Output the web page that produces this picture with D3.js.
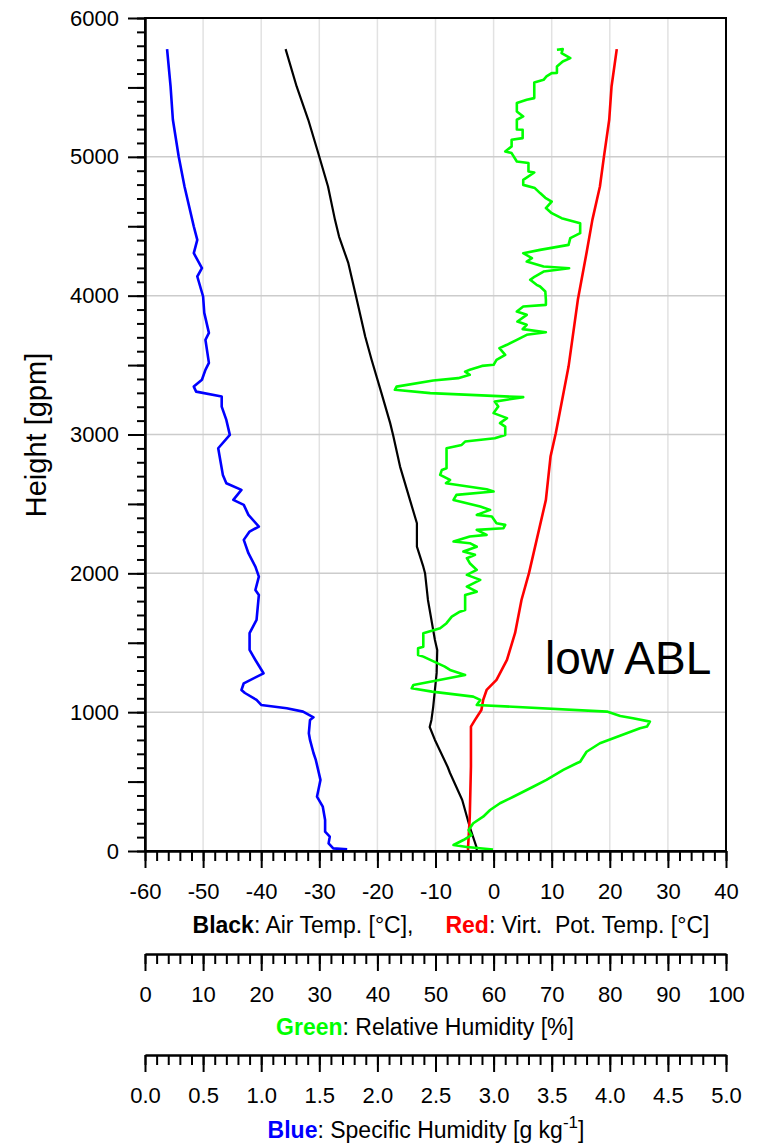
<!DOCTYPE html>
<html>
<head>
<meta charset="utf-8">
<script src="https://cdn.jsdelivr.net/npm/d3@7"></script>
<style>
  body { margin: 0; background: #fff; }
  svg text { font-family: "Liberation Sans", Arial, sans-serif; }
</style>
</head>
<body>
<div id="chart"></div>
<script>
// air temperature (black), deg C
const blackH = [0, 22, 173, 367, 562, 605, 800, 893, 944, 1037, 1160, 1283, 1448, 1520, 1808, 2001, 2048, 2192, 2361, 2529, 2769, 2997, 3082, 3298, 3538, 3706, 3999, 4234, 4426, 4546, 4786, 5029, 5267, 5507, 5776];
const blackT = [-2.9, -2.9, -4.1, -5.4, -7.5, -7.9, -10.1, -11.0, -10.7, -10.4, -10.1, -9.8, -9.7, -10.1, -11.3, -11.8, -12.1, -13.2, -13.2, -14.4, -16.1, -17.3, -17.8, -19.3, -21.0, -22.1, -23.7, -25.0, -26.6, -27.3, -28.5, -30.2, -31.9, -33.9, -35.8];

// virtual potential temperature (red), deg C
const redH = [0, 22, 248, 608, 896, 944, 1016, 1088, 1160, 1232, 1376, 1571, 1808, 2003, 2529, 2841, 3009, 3489, 3970, 4309, 4546, 4786, 5003, 5267, 5507, 5776];
const redT = [-4.4, -4.4, -4.1, -3.9, -3.9, -3.2, -2.1, -1.8, -1.2, 0.5, 2.3, 3.7, 4.8, 6.1, 9.0, 9.8, 10.7, 12.9, 14.5, 16.0, 17.0, 18.3, 19.0, 19.9, 20.3, 21.2];

// specific humidity (blue), g/kg
const blueH = [12, 19, 55, 103, 139, 223, 319, 391, 512, 656, 706, 800, 848, 944, 963, 1004, 1028, 1052, 1088, 1138, 1160, 1208, 1280, 1376, 1448, 1569, 1664, 1844, 1880, 1976, 2048, 2145, 2241, 2301, 2337, 2421, 2493, 2529, 2601, 2649, 2709, 2901, 2997, 3105, 3201, 3273, 3309, 3345, 3394, 3466, 3516, 3682, 3732, 3876, 3994, 4138, 4198, 4306, 4402, 4498, 4642, 4786, 5002, 5267, 5507, 5776];
const blueQ = [1.74, 1.62, 1.58, 1.59, 1.55, 1.55, 1.53, 1.48, 1.51, 1.47, 1.45, 1.42, 1.41, 1.42, 1.45, 1.36, 1.22, 1.00, 0.96, 0.86, 0.83, 0.85, 1.02, 0.95, 0.90, 0.90, 0.96, 0.98, 0.95, 0.98, 0.95, 0.89, 0.85, 0.90, 0.98, 0.89, 0.85, 0.76, 0.83, 0.70, 0.67, 0.63, 0.73, 0.70, 0.66, 0.66, 0.44, 0.42, 0.49, 0.52, 0.55, 0.52, 0.55, 0.51, 0.50, 0.45, 0.49, 0.42, 0.45, 0.42, 0.38, 0.34, 0.29, 0.24, 0.22, 0.19];

// relative humidity (green), %
const greenH = [11, 29, 43, 79, 115, 151, 200, 247, 295, 344, 391, 463, 512, 584, 632, 643, 715, 776, 812, 848, 884, 896, 932, 956, 973, 1004, 1052, 1088, 1112, 1148, 1172, 1196, 1268, 1304, 1328, 1400, 1412, 1460, 1472, 1569, 1605, 1641, 1688, 1724, 1736, 1808, 1844, 1868, 1904, 1953, 1989, 2025, 2073, 2109, 2133, 2157, 2192, 2217, 2229, 2265, 2277, 2313, 2325, 2349, 2361, 2409, 2421, 2457, 2481, 2529, 2565, 2589, 2606, 2649, 2673, 2709, 2745, 2757, 2901, 2925, 2949, 2973, 2997, 3057, 3082, 3118, 3154, 3201, 3237, 3269, 3298, 3322, 3345, 3389, 3406, 3430, 3453, 3466, 3494, 3502, 3538, 3574, 3622, 3646, 3682, 3718, 3737, 3759, 3790, 3814, 3862, 3886, 3922, 3934, 3970, 4030, 4066, 4078, 4114, 4138, 4174, 4198, 4210, 4246, 4270, 4306, 4330, 4366, 4414, 4450, 4522, 4558, 4594, 4631, 4678, 4705, 4739, 4775, 4798, 4834, 4887, 4894, 4955, 4966, 5027, 5039, 5075, 5123, 5135, 5195, 5197, 5267, 5291, 5327, 5387, 5411, 5423, 5536, 5555, 5579, 5603, 5605, 5651, 5687, 5711, 5747, 5776, 5771];
const greenRH = [59.9, 55.4, 53.1, 54.8, 56.2, 55.7, 56.5, 58.2, 59.4, 61.1, 63.4, 66.8, 69.1, 72.0, 74.3, 74.9, 76.0, 78.3, 80.6, 82.9, 85.2, 86.4, 86.9, 84.0, 81.8, 79.5, 57.1, 57.7, 56.5, 49.4, 45.9, 46.2, 55.1, 52.5, 51.6, 47.9, 47.0, 47.0, 47.9, 47.9, 50.8, 51.9, 52.8, 54.2, 55.1, 55.1, 55.1, 57.1, 55.4, 57.7, 55.4, 57.1, 55.9, 55.4, 56.8, 54.8, 57.1, 55.9, 53.1, 55.9, 58.8, 57.1, 61.7, 62.0, 60.5, 59.7, 57.1, 59.4, 57.7, 53.1, 53.6, 60.0, 58.8, 51.8, 52.5, 50.8, 51.1, 51.9, 51.9, 54.5, 55.1, 60.2, 62.0, 62.0, 61.1, 62.3, 60.0, 60.8, 60.2, 65.1, 49.1, 43.0, 43.3, 49.6, 53.9, 55.9, 55.1, 55.9, 58.0, 60.0, 60.5, 62.0, 61.0, 62.3, 64.0, 65.7, 69.0, 65.0, 65.7, 64.1, 65.7, 64.0, 65.1, 69.0, 69.0, 68.9, 68.0, 67.4, 66.3, 67.1, 68.6, 73.0, 68.6, 65.7, 66.6, 65.1, 68.0, 72.9, 73.2, 74.9, 74.9, 71.7, 70.0, 69.0, 70.0, 68.9, 68.0, 67.1, 65.1, 65.1, 67.0, 66.0, 66.0, 64.0, 63.1, 62.0, 63.1, 63.1, 65.0, 65.0, 64.0, 64.0, 65.1, 64.0, 64.0, 65.7, 67.0, 67.0, 68.6, 69.1, 70.0, 70.9, 70.9, 71.9, 73.2, 71.7, 71.9, 70.9];

const tempTicks = d3.range(-60, 41, 10);
const rhTicks = d3.range(0, 101, 10);
const qTicks = d3.range(0, 5.01, 0.5);
const heightTicks = d3.range(0, 6001, 1000);

const w = 764;
const h = 1144;
const padL = 145, padR = 726, padT = 18, padB = 851;
const font = "'Liberation Sans', Arial, sans-serif";

const svg = d3.select("#chart").append("svg").attr("width", w).attr("height", h);

const xT = d3.scaleLinear().domain([-60, 40]).range([padL, padR]);
const xRH = d3.scaleLinear().domain([0, 100]).range([padL, padR]);
const xQ = d3.scaleLinear().domain([0, 5]).range([padL, padR]);
const y = d3.scaleLinear().domain([0, 6000]).range([padB, padT]);

// grid
svg.append("g")
  .selectAll("line")
  .data(tempTicks.slice(1, -1))
  .enter()
  .append("line")
  .attr("x1", (d) => xT(d))
  .attr("x2", (d) => xT(d))
  .attr("y1", padT)
  .attr("y2", padB)
  .attr("stroke", "#e2e2e2")
  .attr("stroke-width", 1.5);
svg.append("g")
  .selectAll("line")
  .data(heightTicks.slice(1, -1))
  .enter()
  .append("line")
  .attr("x1", padL)
  .attr("x2", padR)
  .attr("y1", (d) => y(d))
  .attr("y2", (d) => y(d))
  .attr("stroke", "#cccccc")
  .attr("stroke-width", 1.5);

// profiles
const drawProfile = (xs, vals, hs, color, width) => {
  const pts = d3.zip(vals, hs);
  svg.append("path")
    .datum(pts)
    .attr("fill", "none")
    .attr("stroke", color)
    .attr("stroke-width", width)
    .attr("stroke-linejoin", "round")
    .attr("d", d3.line().x((d) => xs(d[0])).y((d) => y(d[1])));
};
drawProfile(xQ, blueQ, blueH, "#0000ff", 2.6);
drawProfile(xT, blackT, blackH, "#000000", 2.2);
drawProfile(xT, redT, redH, "#ff0000", 2.6);
drawProfile(xRH, greenRH, greenH, "#00ff00", 2.6);

// frame
svg.append("rect")
  .attr("x", padL)
  .attr("y", padT)
  .attr("width", padR - padL)
  .attr("height", padB - padT)
  .attr("fill", "none")
  .attr("stroke", "#000")
  .attr("stroke-width", 2);

const styleAxis = (g) => {
  g.attr("font-size", 22).attr("font-family", font);
  g.selectAll("line").attr("stroke", "#000").attr("stroke-width", 2);
  g.selectAll("path").attr("stroke", "#000").attr("stroke-width", 2);
  g.selectAll("text").attr("fill", "#000");
};

// y axis
svg.append("g")
  .attr("transform", `translate(${padL},0)`)
  .call(d3.axisLeft(y).tickValues(d3.range(0, 6001, 100)).tickSize(8).tickSizeOuter(0).tickFormat(""))
  .call(styleAxis);
svg.append("g")
  .attr("transform", `translate(${padL},0)`)
  .call(d3.axisLeft(y).tickValues(d3.range(0, 6001, 500)).tickSize(17).tickSizeOuter(0).tickPadding(9)
    .tickFormat((d) => (d % 1000 === 0 ? String(d) : "")))
  .call(styleAxis);

// bottom axes
const bottomAxis = (scale, yPos, minorStep, majorTicks, fmt) => {
  svg.append("g")
    .attr("transform", `translate(0,${yPos})`)
    .call(d3.axisBottom(scale).tickValues(d3.range(scale.domain()[0], scale.domain()[1] + 1e-6, minorStep))
      .tickSize(10).tickSizeOuter(0).tickFormat(""))
    .call(styleAxis);
  svg.append("g")
    .attr("transform", `translate(0,${yPos})`)
    .call(d3.axisBottom(scale).tickValues(majorTicks).tickSize(17).tickSizeOuter(0).tickPadding(15).tickFormat(fmt))
    .call(styleAxis);
};
bottomAxis(xT, padB, 2, tempTicks, (d) => String(d));
bottomAxis(xRH, 954, 2, rhTicks, (d) => String(d));
bottomAxis(xQ, 1055, 0.1, qTicks, d3.format(".1f"));

// axis titles
svg.append("text")
  .attr("transform", "translate(46,435) rotate(-90)")
  .attr("text-anchor", "middle")
  .attr("font-size", 29)
  .text("Height [gpm]");

const t1 = svg.append("text")
  .attr("x", 451)
  .attr("y", 933)
  .attr("text-anchor", "middle")
  .attr("font-size", 23)
  .attr("xml:space", "preserve");
t1.append("tspan").attr("font-weight", "bold").text("Black");
t1.append("tspan").text(": Air Temp. [°C],     ");
t1.append("tspan").attr("font-weight", "bold").attr("fill", "#ff0000").text("Red");
t1.append("tspan").text(": Virt.  Pot. Temp. [°C]");

const t2 = svg.append("text")
  .attr("x", 425)
  .attr("y", 1035)
  .attr("text-anchor", "middle")
  .attr("font-size", 23);
t2.append("tspan").attr("font-weight", "bold").attr("fill", "#00ff00").text("Green");
t2.append("tspan").text(": Relative Humidity [%]");

const t3 = svg.append("text")
  .attr("x", 426)
  .attr("y", 1138)
  .attr("text-anchor", "middle")
  .attr("font-size", 23);
t3.append("tspan").attr("font-weight", "bold").attr("fill", "#0000ff").text("Blue");
t3.append("tspan").text(": Specific Humidity [g kg");
t3.append("tspan").attr("dy", -10).attr("font-size", 17).text("-1");
t3.append("tspan").attr("dy", 10).text("]");

svg.append("text")
  .attr("x", 545)
  .attr("y", 674)
  .attr("font-size", 46)
  .text("low ABL");
</script>
</body>
</html>
